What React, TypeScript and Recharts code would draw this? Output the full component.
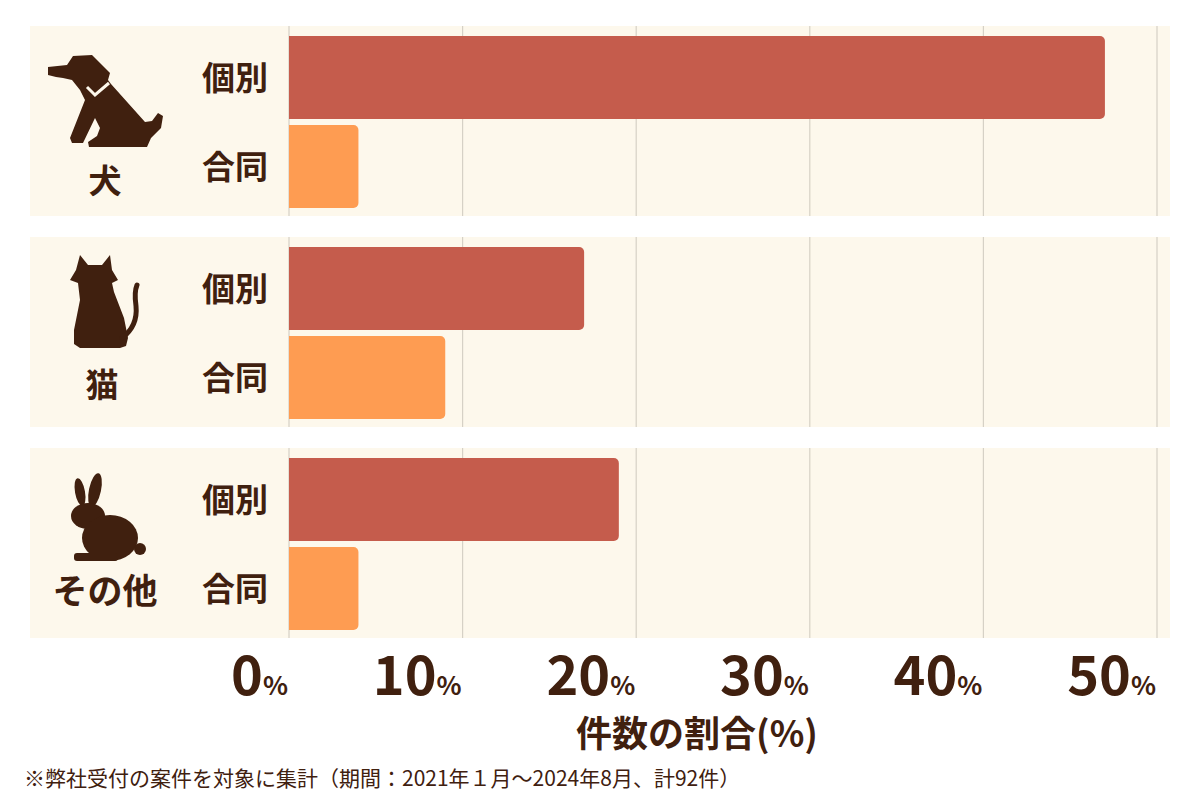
import { BarChart, Bar, XAxis, YAxis, CartesianGrid, Cell } from "recharts";

const groups = ["犬", "猫", "その他"];
const kinds = ["個別", "合同"];
const individualShare = [47, 17, 19];
const jointShare = [4, 9, 4];
const xTicks = [0, 10, 20, 30, 40, 50];

const BROWN = "#40200f";
const PANEL = "#fdf8ec";
const GRID = "#d6d1c6";
const BAR_COLORS = ["#c55c4c", "#fe9c52"];
const JP = "'Noto Sans CJK JP', 'Noto Sans', sans-serif";

const panelTops = [26, 237, 448];

function XTick(props: any) {
  const { x, y, payload } = props;
  return (
    <text x={x - 1} y={y + 55} textAnchor="end" fill={BROWN} fontFamily={JP} fontWeight={700}>
      <tspan fontSize={54}>{payload.value}</tspan>
      <tspan fontSize={26}>%</tspan>
    </text>
  );
}

function YTick(props: any) {
  const { y, payload } = props;
  return (
    <text x={238} y={y + 12} textAnchor="end" fill={BROWN} fontFamily={JP} fontWeight={700} fontSize={33}>
      {payload.value}
    </text>
  );
}

function GroupChart({ idx, showAxis }: { idx: number; showAxis: boolean }) {
  const data = [
    { kind: kinds[0], value: individualShare[idx] },
    { kind: kinds[1], value: jointShare[idx] },
  ];
  return (
    <BarChart
      width={1140}
      height={showAxis ? 270 : 190}
      data={data}
      layout="vertical"
      margin={{ top: 0, right: 13, bottom: 0, left: 0 }}
      barCategoryGap={0}
    >
      <CartesianGrid horizontal={false} stroke={GRID} strokeWidth={1.2} />
      <XAxis
        type="number"
        domain={[0, 50]}
        ticks={xTicks}
        interval={0}
        hide={!showAxis}
        height={80}
        axisLine={false}
        tickLine={false}
        tickSize={0}
        tick={<XTick />}
      />
      <YAxis
        type="category"
        dataKey="kind"
        width={259}
        axisLine={false}
        tickLine={false}
        tick={<YTick />}
        padding={{ top: 7, bottom: 5 }}
      />
      <Bar dataKey="value" barSize={83} radius={[0, 5, 5, 0]} isAnimationActive={false}>
        {data.map((_, i) => (
          <Cell key={i} fill={BAR_COLORS[i]} />
        ))}
      </Bar>
    </BarChart>
  );
}

// silhouettes next to the group labels
function Icons() {
  return (
    <g fill={BROWN}>
      {/* dog */}
      <path d="M48,67 L67,65 L73,56 L92,55 L110,73 L108,80 L111,84 L145,122 L152,121 L158,113 L163,116 L161,128 L151,138 L147,147 L89,147 L88,142 L97,136 L100,128 L95,118 L83,143 L72,143 L70,138 L85,100 L80,90 L72,80 L63,78 L56,77 L48,75 Z" />
      <polyline points="87,87 95,95 109,83" fill="none" stroke={PANEL} strokeWidth={3} />
      {/* cat */}
      <path d="M80,255 L88,265 L102,265 L110,255 L112,270 L118,280 L112,283 L114,292 L124,318 L128,338 L126,346 L120,348 L80,348 L74,344 L74,330 L80,300 L78,283 L70,280 L76,270 Z" />
      <path d="M122,338 Q138,326 136,306 Q134,292 137,285" fill="none" stroke={BROWN} strokeWidth={5} strokeLinecap="round" />
      {/* rabbit */}
      <ellipse cx={80} cy={492} rx={5} ry={14} transform="rotate(-10 80 492)" />
      <ellipse cx={95} cy={490} rx={6} ry={17} transform="rotate(12 95 490)" />
      <ellipse cx={88} cy={516} rx={17} ry={13} />
      <ellipse cx={110} cy={538} rx={28} ry={23} />
      <rect x={74} y={553} width={44} height={8} rx={3} />
      <circle cx={140} cy={549} r={6} />
    </g>
  );
}

export default function App() {
  const labelY = [193, 397, 604];
  const labelX = [105, 102, 105];
  return (
    <div style={{ position: "absolute", left: 0, top: 0, width: 1200, height: 800, background: "#fff" }}>
      {panelTops.map((t, i) => (
        <div key={"p" + i} style={{ position: "absolute", left: 30, top: t, width: 1140, height: 190, background: PANEL }} />
      ))}
      {panelTops.map((t, i) => (
        <div key={"c" + i} style={{ position: "absolute", left: 30, top: t }}>
          <GroupChart idx={i} showAxis={i === panelTops.length - 1} />
        </div>
      ))}
      <svg width={1200} height={800} style={{ position: "absolute", left: 0, top: 0, pointerEvents: "none" }}>
        <Icons />
        {groups.map((g, i) => (
          <text key={g} x={labelX[i]} y={labelY[i]} textAnchor="middle" fill={BROWN} fontFamily={JP} fontWeight={700} fontSize={i === 2 ? 35 : 33}>
            {g}
          </text>
        ))}
        <text x={697} y={747} textAnchor="middle" fill={BROWN} fontFamily={JP} fontWeight={700} fontSize={36}>
          件数の割合(%)
        </text>
        <text x={24} y={786} fill={BROWN} fontFamily={JP} fontSize={21}>
          ※弊社受付の案件を対象に集計（期間：2021年１月～2024年8月、計92件）
        </text>
      </svg>
    </div>
  );
}
